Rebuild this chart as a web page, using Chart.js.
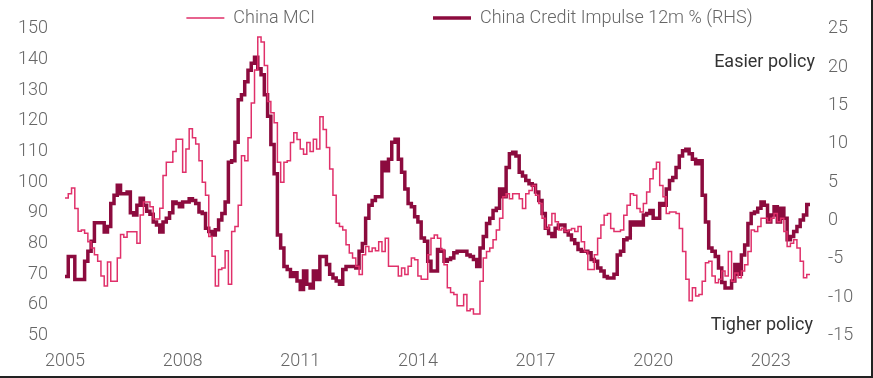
<!DOCTYPE html>
<html lang="en">
<head>
    <meta charset="UTF-8">
    <title>China MCI vs Credit Impulse</title>
    <script src="https://cdn.jsdelivr.net/npm/chart.js"></script>
    <style>
        body { margin: 0; background: #fff; }
        #wrap { width: 871px; height: 376px; border-right: 2px solid #222; border-bottom: 2px solid #222; }
    </style>
</head>
<body>
<div id="wrap"><canvas id="mciChart" width="871" height="376"></canvas></div>

<script>
    // monthly, Jan 2005 .. Jan 2024
    const months = [];
    for (let y = 2005; y <= 2024; y++) {
        for (let m = 1; m <= 12; m++) {
            if (y === 2024 && m > 1) break;
            months.push(y + '-' + String(m).padStart(2, '0'));
        }
    }
    const tickYears = ['2005', '2008', '2011', '2014', '2017', '2020', '2023'];

    // China MCI (left axis)
    const mci = [
        94.8, 96.2, 98.1, 91.4, 84, 84.4, 83.3, 80.6, 78.5, 76.3, 74.2, 69.4,
        66.1, 74, 67.7, 67.7, 75.3, 82.9, 82, 83.8, 83.8, 83.8, 80.1, 89.3,
        93.5, 93.5, 92, 88, 88, 91.5, 102.2, 106.5, 106.5, 110, 114, 114,
        103.2, 110.8, 117.4, 114.5, 112.4, 107, 100, 95.7, 82.3, 75.8, 66.1, 71.5,
        72, 77.6, 66.7, 83.9, 85.5, 92.5, 108.6, 107, 114.5, 125.8, 136.6, 147.3,
        145.7, 138, 126.3, 122.6, 119.4, 106.5, 100, 106.5, 107, 112.9, 116.1, 113.9,
        110.8, 109.1, 112.9, 110, 114, 110.8, 121.3, 117.2, 111.3, 104.3, 95.7, 86.6,
        85.5, 84.4, 79.6, 76.9, 75.3, 72.6, 69.9, 76.3, 79, 77.4, 78.5, 77.6,
        80.6, 77.4, 81.7, 72.6, 72.6, 72.6, 69.4, 72, 69.9, 72.6, 75.3, 74.7,
        69.4, 68.3, 68.3, 76.3, 81.7, 82.8, 81.7, 78, 73.1, 65.6, 64, 63.4,
        59.7, 59.7, 63.4, 58.1, 58.6, 57, 57, 67.7, 75.3, 77.4, 78.5, 81.2,
        84.4, 88.2, 95.2, 96.2, 94.6, 96.2, 96.2, 94.6, 91.4, 96.2, 97.3, 98.9,
        95.7, 93, 88.2, 84.9, 86, 89.8, 87.1, 84.4, 85, 83.9, 84.4, 84.9,
        83.9, 85.5, 80.6, 77.4, 71.5, 71.5, 76.3, 81.7, 86, 89.2, 89.8, 84.9,
        83.9, 83.9, 84.4, 89.2, 92.5, 96.2, 95.7, 91.4, 90.3, 93, 96.8, 101.1,
        104.3, 106.5, 98.9, 95.2, 89.8, 90.3, 90.3, 89.8, 84.9, 77.4, 68.3, 61.3,
        65.6, 62.9, 63.4, 67.7, 73.7, 74.2, 69.4, 67.2, 68.3, 71, 69.4, 77.4,
        67.7, 70.4, 68.8, 71, 73.1, 77.4, 84.4, 83.9, 85.5, 88.2, 88.2, 87.1,
        88.2, 89.8, 87.1, 88.2, 83.9, 79, 80.1, 81.2, 78.5, 74.2, 68.8, 69.9,
        69.9
    ];

    // China credit impulse 12m % (right axis)
    const impulse = [
        -7.3, -4.7, -4.7, -7.7, -7.7, -7.7, -5.3, -4.0, -2.7, -0.3, -0.3, -0.3,
        -1.5, -0.8, 2.2, 3.3, 4.6, 3.5, 3.5, 3.7, 1.0, 0.7, 2.0, 2.9,
        2.0, 1.2, 0.8, -0.2, -0.6, -1.5, -0.2, 0.3, 1.0, 2.4, 2.2, 1.8,
        2.4, 2.4, 2.85, 2.6, 2.2, 1.1, 0.9, -1.0, -1.45, -1.9, -1.2, 0.05,
        0.9, 2.4, 7.6, 7.8, 10.2, 15.75, 16.4, 18.1, 19.6, 20.5, 21.3, 19.8,
        19.0, 16.4, 13.6, 9.9, 6.1, -1.9, -3.6, -6.0, -6.4, -7.3, -6.8, -7.9,
        -9.0, -6.6, -8.3, -8.8, -6.6, -7.7, -4.7, -4.7, -5.75, -7.0, -7.5, -7.9,
        -8.3, -6.4, -6.0, -6.0, -6.0, -6.2, -4.0, -3.0, 0.3, 2.0, 2.6, 3.1,
        3.1, 7.6, 6.5, 8.0, 10.2, 10.6, 8.0, 6.3, 4.1, 2.2, 1.8, 0.5,
        -0.2, -2.3, -2.7, -5.3, -6.6, -6.6, -3.8, -4.0, -5.3, -5.1, -4.9, -4.2,
        -4.0, -4.0, -4.0, -4.5, -4.7, -5.1, -6.0, -3.6, -2.1, -0.4, 0.3, 1.3,
        1.6, 4.1, 3.1, 6.9, 8.7, 8.9, 8.4, 6.3, 5.8, 5.2, 4.8, 4.6,
        3.7, 2.6, 0.9, -1.0, -1.7, -2.1, -1.0, -0.6, -0.6, -1.45, -1.9, -2.5,
        -3.0, -3.8, -4.0, -4.0, -4.2, -5.1, -5.3, -6.2, -6.6, -7.3, -7.5, -7.5,
        -7.0, -4.5, -4.0, -2.5, -2.3, -0.2, -0.6, -0.2, -0.6, 0.7, 0.9, 1.3,
        0.3, 0.3, 2.2, 2.0, 4.1, 5.2, 5.6, 6.9, 8.4, 9.1, 9.3, 8.7,
        8.0, 7.4, 7.8, 3.3, -0.2, -3.6, -4.0, -4.7, -6.2, -8.1, -8.8, -8.8,
        -7.9, -5.75, -7.0, -4.5, -3.2, -0.4, 0.9, 1.1, 1.6, 2.4, 2.0, -0.2,
        0.7, 1.8, -0.2, 1.6, 0.3, -2.5, -2.1, -1.45, -0.8, 0.05, 0.7, 2.1,
        2.1
    ];

    const pink = '#e0306a';
    const maroon = '#8c0b3e';
    const tickFont = { family: 'Roboto', size: 18, weight: 300 };

    // legend sits above the plot, shifted right like the original
    const legendPlace = {
        id: 'legendPlace',
        afterLayout(chart) {
            const lg = chart.legend;
            const pad = lg.options.labels.padding;
            lg.top = 9 - pad;
            lg.bottom = 34;
            lg.left += 34;
            lg.right += 34;
        }
    };

    // "Easier policy" / "Tigher policy" notes
    const policyNotes = {
        id: 'policyNotes',
        afterDraw(chart) {
            const c = chart.ctx;
            c.save();
            c.font = '400 18px Roboto';
            c.fillStyle = '#333';
            c.textAlign = 'right';
            c.textBaseline = 'middle';
            c.fillText('Easier policy', 815, 62);
            c.fillText('Tigher policy', 813, 325);
            c.restore();
        }
    };

    const ctx = document.getElementById('mciChart').getContext('2d');
    const chart = new Chart(ctx, {
        type: 'line',
        data: {
            labels: months,
            datasets: [{
                label: 'China MCI',
                data: mci,
                borderColor: pink,
                backgroundColor: pink,
                borderWidth: 1.5,
                stepped: true,
                pointRadius: 0,
                yAxisID: 'y'
            }, {
                label: 'China Credit Impulse 12m % (RHS)',
                data: impulse,
                borderColor: maroon,
                backgroundColor: maroon,
                borderWidth: 3.5,
                stepped: true,
                pointRadius: 0,
                yAxisID: 'y1'
            }]
        },
        options: {
            responsive: false,
            animation: false,
            layout: { padding: 0 },
            plugins: {
                legend: {
                    position: 'top',
                    maxHeight: 25,
                    labels: {
                        boxWidth: 38,
                        boxHeight: 0,
                        padding: 118,
                        color: '#666',
                        font: tickFont
                    }
                },
                tooltip: { enabled: false }
            },
            scales: {
                x: {
                    grid: { display: false, drawTicks: false },
                    border: { display: false },
                    afterFit: s => { s.height = 40.5; },
                    ticks: {
                        autoSkip: false,
                        maxRotation: 0,
                        padding: 15,
                        color: '#666',
                        font: tickFont,
                        callback: (v, i) => {
                            const lab = months[i];
                            return lab.endsWith('-01') && tickYears.includes(lab.slice(0, 4)) ? lab.slice(0, 4) : null;
                        }
                    }
                },
                y: {
                    position: 'left',
                    min: 50,
                    max: 150,
                    grid: { display: false, drawTicks: false },
                    border: { display: false },
                    afterFit: s => { s.width = 65; },
                    ticks: { stepSize: 10, padding: 17, color: '#666', font: tickFont }
                },
                y1: {
                    position: 'right',
                    min: -15,
                    max: 25,
                    grid: { display: false, drawTicks: false },
                    border: { display: false },
                    afterFit: s => { s.width = 61; },
                    ticks: { stepSize: 5, padding: 18, color: '#666', font: tickFont }
                }
            }
        },
        plugins: [legendPlace, policyNotes]
    });
</script>
</body>
</html>
